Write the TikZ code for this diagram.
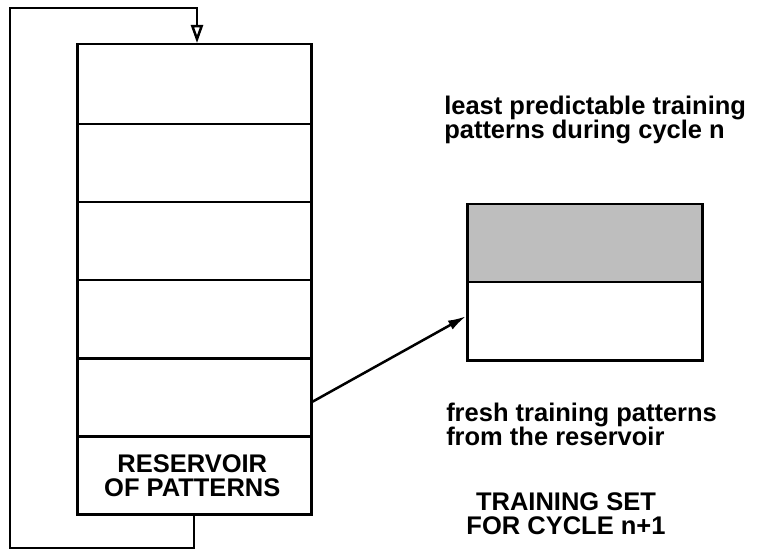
\documentclass[tikz,border=0pt]{standalone}
\usepackage{fontspec}
\setmainfont{Liberation Sans}
\usetikzlibrary{arrows.meta,calc}
\definecolor{cellgray}{HTML}{BEBEBE}
\begin{document}
\begin{tikzpicture}[x=1pt,y=-1pt,
  line width=2.5pt,
  cell/.style={draw=black, line width=2.5pt, rectangle, inner sep=0pt, minimum width=234pt, anchor=north west},
  lbl/.style={inner sep=0pt, font=\bfseries\fontsize{25.5}{24}\selectfont},
]
\useasboundingbox (0,0) rectangle (760,553);
% reservoir column
\node[cell, minimum height=80pt] (c1) at (76,43) {};
\node[cell, minimum height=78pt] (c2) at (76,123) {};
\node[cell, minimum height=78pt] (c3) at (76,201) {};
\node[cell, minimum height=78pt] (c4) at (76,279) {};
\node[cell, minimum height=78pt] (c5) at (76,357) {};
\node[cell, minimum height=78pt] (res) at (76,435) {};
\node[lbl, align=center] (restext) at ([xshift=-2pt]res.center) {RESERVOIR\\OF PATTERNS};
% training set
\node[cell, minimum width=235pt, minimum height=78pt, fill=cellgray] (old) at (466,203) {};
\node[cell, minimum width=235pt, minimum height=78pt] (new) at (466,281) {};
% labels
\node[lbl, align=left, anchor=west] (toplbl) at (443,120) {least predictable training\\patterns during cycle n};
\node[lbl, align=left, anchor=west] (freshlbl) at (445,424) {fresh training patterns\\from the reservoir};
\node[lbl, align=center] (setlbl) at (566,514) {TRAINING SET\\FOR CYCLE n+1};
% connectors
\coordinate (a1) at (312,402);
\draw[-{Latex[length=18pt,width=10pt]}] (a1) -- ([yshift=5pt]new.west);
\coordinate (lb) at (194,548);
\coordinate (ll) at (10,548);
\coordinate (lt) at (10,8);
\coordinate (lr) at (197,8);
\draw[-{Triangle[open,length=18pt,width=12pt]}] (res.south -| lb) -- (lb) -- (ll) -- (lt) -- (lr) -- (lr |- c1.north);
\end{tikzpicture}
\end{document}
